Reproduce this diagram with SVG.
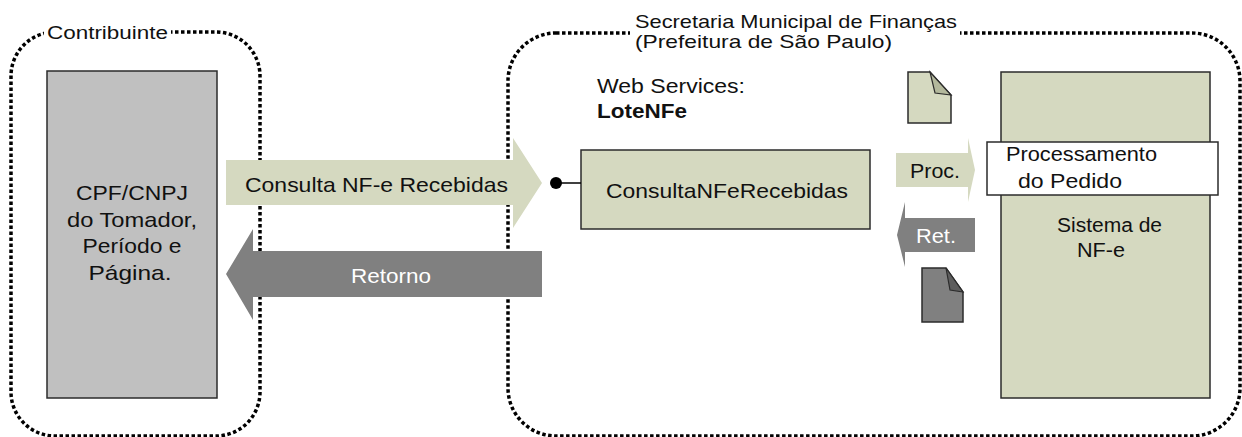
<svg xmlns="http://www.w3.org/2000/svg" width="1242" height="437" viewBox="0 0 1242 437">
<style>
.t{font-family:"Liberation Sans",Arial,sans-serif;fill:#111;}
.w{fill:#fff;}
.cont{fill:none;stroke:#000;stroke-width:3.5;stroke-dasharray:3.5 2.5;}
.olive{fill:#d5d9c0;}
.box{stroke:#2b2b2b;stroke-width:1.5;}
.grayfill{fill:#808080;}
</style>
<rect width="1242" height="437" fill="#fff"/>
<g id="contribuinte">
<rect class="cont" x="11" y="32" width="249" height="404" rx="44"/>
<rect x="44" y="22" width="127" height="20" fill="#fff"/>
<text class="t" x="47" y="39" font-size="18" textLength="121" lengthAdjust="spacingAndGlyphs">Contribuinte</text>
</g>
<g id="secretaria">
<rect class="cont" x="508" y="33" width="732" height="403" rx="48"/>
<rect x="630" y="24" width="330" height="16" fill="#fff"/>
<text class="t" x="635" y="28" font-size="19" textLength="322" lengthAdjust="spacingAndGlyphs">Secretaria Municipal de Finanças</text>
<text class="t" x="635" y="48" font-size="19" textLength="257" lengthAdjust="spacingAndGlyphs">(Prefeitura de São Paulo)</text>
</g>
<g id="tomador">
<rect class="box" x="47" y="71" width="170" height="327" fill="#c0c0c0"/>
<text class="t" x="132" y="200" font-size="21" text-anchor="middle" textLength="112" lengthAdjust="spacingAndGlyphs">CPF/CNPJ</text>
<text class="t" x="132" y="227" font-size="21" text-anchor="middle" textLength="130" lengthAdjust="spacingAndGlyphs">do Tomador,</text>
<text class="t" x="132" y="253" font-size="21" text-anchor="middle" textLength="99" lengthAdjust="spacingAndGlyphs">Período e</text>
<text class="t" x="130" y="280" font-size="21" text-anchor="middle" textLength="83" lengthAdjust="spacingAndGlyphs">Página.</text>
</g>
<g id="webservices">
<text class="t" x="597" y="93" font-size="20" textLength="148" lengthAdjust="spacingAndGlyphs">Web Services:</text>
<text class="t" x="597" y="118" font-size="20" font-weight="bold" textLength="90" lengthAdjust="spacingAndGlyphs">LoteNFe</text>
</g>
<g id="consultaNFeRecebidas">
<rect class="box olive" x="581" y="150" width="289" height="79"/>
<text class="t" x="606" y="198" font-size="21" textLength="242" lengthAdjust="spacingAndGlyphs">ConsultaNFeRecebidas</text>
</g>
<g id="sistema">
<rect class="box olive" x="1001" y="72" width="209" height="326"/>
<text class="t" x="1057" y="232" font-size="20" textLength="105" lengthAdjust="spacingAndGlyphs">Sistema de</text>
<text class="t" x="1077" y="257" font-size="20" textLength="48" lengthAdjust="spacingAndGlyphs">NF-e</text>
</g>
<g id="processamento">
<rect class="box" x="987" y="142" width="231" height="53" fill="#fff"/>
<text class="t" x="1006" y="161" font-size="20" textLength="151" lengthAdjust="spacingAndGlyphs">Processamento</text>
<text class="t" x="1018" y="188" font-size="20" textLength="104" lengthAdjust="spacingAndGlyphs">do Pedido</text>
</g>
<g id="doc-pedido">
<path d="M908,72 H930 L951,95 V123 H908 Z" fill="#d5d9c0" stroke="#2b2b2b" stroke-width="1.5"/>
<path d="M930,72 L935,93 L951,95 Z" fill="#b3b89c" stroke="#2b2b2b" stroke-width="1.2"/>
</g>
<g id="doc-retorno">
<path d="M922,268 H946 L963,292 V322 H922 Z" fill="#808080" stroke="#2b2b2b" stroke-width="1.5"/>
<path d="M946,268 L950,290 L963,292 Z" fill="#5e5e5e" stroke="#2b2b2b" stroke-width="1.2"/>
</g>
<g id="connectors">
<path class="olive" d="M226,160 H513 V138 L542,183 L513,228 V205 H226 Z"/>
<text class="t" x="245" y="192" font-size="21" textLength="263" lengthAdjust="spacingAndGlyphs">Consulta NF-e Recebidas</text>
<path class="grayfill" d="M542,251 V297 H253 V320 L226,274 L253,229 V251 Z"/>
<text class="t w" x="351" y="283" font-size="20" textLength="80" lengthAdjust="spacingAndGlyphs">Retorno</text>
<line x1="556" y1="183" x2="581" y2="183" stroke="#000" stroke-width="1.5"/>
<circle cx="556" cy="183" r="6" fill="#000"/>
<path class="olive" d="M896,153 H968 V138 L975,170 L968,202 V187 H896 Z"/>
<text class="t" x="910" y="178" font-size="20" textLength="50" lengthAdjust="spacingAndGlyphs">Proc.</text>
<path class="grayfill" d="M975,218 V252 H905 V267 L897,235 L905,202 V218 Z"/>
<text class="t w" x="916" y="243" font-size="20" textLength="40" lengthAdjust="spacingAndGlyphs">Ret.</text>
</g>
</svg>
